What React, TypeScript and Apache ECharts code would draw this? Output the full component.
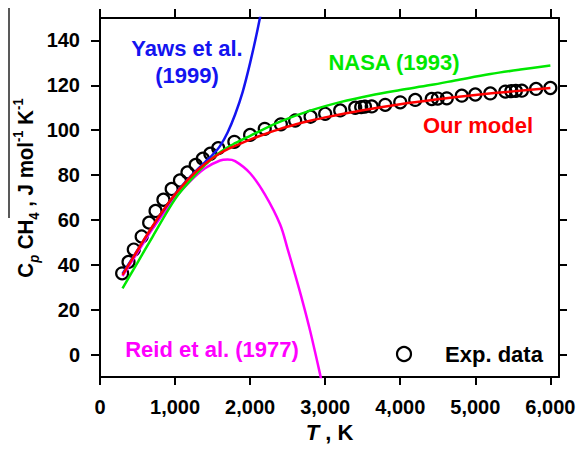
import React, { useEffect, useRef } from "react";
import * as echarts from "echarts";

// Experimental data (T in K, Cp in J mol^-1 K^-1)
const expT = [295, 380, 450, 555, 655, 740, 845, 955, 1065, 1165, 1275, 1370, 1470, 1575, 1790, 2000, 2195, 2410, 2600, 2805, 3000, 3200, 3400, 3480, 3530, 3620, 3800, 4000, 4200, 4420, 4500, 4620, 4820, 5000, 5200, 5400, 5480, 5540, 5620, 5810, 6000];
const expCp = [36.2, 41.3, 46.8, 52.6, 58.8, 64, 69, 73.8, 77.6, 81.2, 84.5, 87.3, 89.5, 92, 94.8, 97.9, 100.6, 102.6, 104.3, 106, 107.3, 108.8, 110, 110.3, 110.5, 110.6, 111.3, 112.4, 113.5, 113.9, 114.1, 114.2, 115.4, 115.9, 116.4, 117.2, 117.4, 117.5, 117.6, 118.4, 118.8];

// Our model (red)
const modelT = [300, 400, 500, 600, 700, 800, 900, 1000, 1200, 1400, 1600, 1800, 2000, 2200, 2400, 2600, 2800, 3000, 3500, 4000, 4500, 5000, 5500, 6000];
const modelCp = [35.5, 41, 46.5, 52, 57.2, 62.2, 67, 71.4, 79, 85, 89.7, 93, 95.8, 98.3, 100.6, 102.5, 104.2, 105.7, 108.9, 111.6, 113.8, 115.7, 117.3, 118.8];

// NASA (1993) (green)
const nasaT = [300, 500, 700, 1000, 1200, 1400, 1600, 1800, 2000, 2400, 2800, 3200, 3600, 4000, 4400, 4800, 5200, 5600, 6000];
const nasaCp = [29.5, 41, 52.5, 69.3, 77.5, 84.5, 90.2, 94.2, 97.5, 103.8, 108.7, 112.5, 115.5, 117.9, 120.1, 122.6, 125, 127, 128.8];

// Yaws et al. (1999) (blue)
const yawsT = [300, 500, 700, 1000, 1200, 1400, 1500, 1600, 1700, 1800, 1900, 2000, 2100, 2200];
const yawsCp = [36, 46.5, 57, 71.5, 79.2, 85.8, 89, 93, 99, 107, 117, 130, 145, 162];

// Reid et al. (1977) (magenta)
const reidT = [300, 500, 700, 1000, 1200, 1400, 1600, 1700, 1800, 2000, 2200, 2400, 2500, 2600, 2700, 2800, 2900, 2950];
const reidCp = [35, 45.5, 56, 69.8, 77.2, 83, 86.5, 86.9, 86.2, 80.8, 71.2, 58, 47, 35.5, 23.5, 10.5, -4, -11.5];

const xTicks = [0, 1000, 2000, 3000, 4000, 5000, 6000];
const yTicks = [0, 20, 40, 60, 80, 100, 120, 140];

const FONT = "'Liberation Sans', Arial, sans-serif";
const BLUE = "#1414f0";
const GREEN = "#00e800";
const RED = "#ff0000";
const MAGENTA = "#ff00ff";

const zip = (a: number[], b: number[]) => a.map((v, i) => [v, b[i]]);

export default function App() {
  const ref = useRef<HTMLDivElement>(null);
  useEffect(() => {
    if (!ref.current) return;
    const chart = echarts.init(ref.current, null, { renderer: "svg" });
    const axisLine = { show: true, onZero: false, lineStyle: { color: "#000", width: 2 } };
    const labelStyle = { fontSize: 20, fontWeight: "bold" as const, color: "#000", fontFamily: FONT };
    const lineSeries = (name: string, t: number[], v: number[], color: string) => ({
      name,
      type: "line",
      data: zip(t, v),
      showSymbol: false,
      symbol: "none",
      smooth: 0.35,
      lineStyle: { color, width: 2.5 },
      itemStyle: { color },
      clip: true,
    });
    chart.setOption({
      animation: false,
      backgroundColor: "#fff",
      grid: { left: 100, right: 20, top: 18, bottom: 72, containLabel: false, outerBoundsMode: "none" },
      xAxis: [
        {
          type: "value",
          position: "bottom",
          min: 0,
          max: 6115,
          axisLine,
          splitLine: { show: false },
          axisTick: { show: true, inside: false, length: 8, lineStyle: { color: "#000", width: 2 }, customValues: xTicks },
          axisLabel: {
            ...labelStyle,
            margin: 20,
            customValues: xTicks,
            formatter: (v: number) => v.toLocaleString("en-US"),
          },
          name: "{i|T}{n| , K}",
          nameLocation: "middle",
          nameGap: 40,
          nameTextStyle: {
            rich: {
              i: { fontSize: 22, fontWeight: "bold", fontStyle: "italic", fontFamily: FONT, color: "#000" },
              n: { fontSize: 22, fontWeight: "bold", fontFamily: FONT, color: "#000" },
            },
          },
        },
        {
          type: "value",
          position: "top",
          min: 0,
          max: 6115,
          axisLine,
          splitLine: { show: false },
          axisTick: { show: true, inside: false, length: 9, lineStyle: { color: "#000", width: 2 }, customValues: xTicks },
          axisLabel: { show: false },
        },
      ],
      yAxis: [
        {
          type: "value",
          position: "left",
          min: -10,
          max: 150,
          axisLine,
          splitLine: { show: false },
          axisTick: { show: true, inside: false, length: 9, lineStyle: { color: "#000", width: 2 }, customValues: yTicks },
          axisLabel: { ...labelStyle, margin: 20, customValues: yTicks },
        },
        {
          type: "value",
          position: "right",
          min: -10,
          max: 150,
          axisLine,
          splitLine: { show: false },
          axisTick: { show: true, inside: false, length: 8, lineStyle: { color: "#000", width: 2 }, customValues: yTicks },
          axisLabel: { show: false },
        },
      ],
      series: [
        {
          name: "Exp. data",
          type: "scatter",
          data: zip(expT, expCp),
          symbol: "circle",
          symbolSize: 12,
          itemStyle: { color: "rgba(255,255,255,0)", borderColor: "#000", borderWidth: 2.2, opacity: 1 },
          clip: true,
        },
        lineSeries("Reid et al. (1977)", reidT, reidCp, MAGENTA),
        lineSeries("Yaws et al. (1999)", yawsT, yawsCp, BLUE),
        lineSeries("NASA (1993)", nasaT, nasaCp, GREEN),
        lineSeries("Our model", modelT, modelCp, RED),
      ],
      graphic: [
        { type: "line", shape: { x1: 9, y1: 8, x2: 9, y2: 218 }, style: { stroke: "#222", lineWidth: 1.5 } },
        {
          type: "text",
          x: 26,
          y: 188,
          rotation: Math.PI / 2,
          scaleX: 0.93,
          style: {
            text: "{c|C}{p|p}{c| CH}{s|4}{c| , J mol}{u|-1}{c| K}{u|-1}",
            align: "center",
            verticalAlign: "middle",
            rich: {
              c: { fontSize: 22, fontWeight: "bold", fontFamily: FONT, fill: "#000", lineHeight: 30 },
              p: { fontSize: 14, fontWeight: "bold", fontStyle: "italic", fontFamily: FONT, fill: "#000", lineHeight: 14, verticalAlign: "bottom" },
              s: { fontSize: 14, fontWeight: "bold", fontFamily: FONT, fill: "#000", lineHeight: 14, verticalAlign: "bottom" },
              u: { fontSize: 14, fontWeight: "bold", fontFamily: FONT, fill: "#000", lineHeight: 14, verticalAlign: "top" },
            },
          },
        },
        { type: "text", x: 187, y: 48, style: { text: "Yaws et al.", fill: BLUE, fontSize: 22, fontWeight: "bold", fontFamily: FONT, align: "center", verticalAlign: "middle" } },
        { type: "text", x: 187, y: 75, style: { text: "(1999)", fill: BLUE, fontSize: 22, fontWeight: "bold", fontFamily: FONT, align: "center", verticalAlign: "middle" } },
        { type: "text", x: 394, y: 62, style: { text: "NASA (1993)", fill: GREEN, fontSize: 22, fontWeight: "bold", fontFamily: FONT, align: "center", verticalAlign: "middle" } },
        { type: "text", x: 478, y: 125, style: { text: "Our model", fill: RED, fontSize: 22, fontWeight: "bold", fontFamily: FONT, align: "center", verticalAlign: "middle" } },
        { type: "text", x: 212, y: 349, style: { text: "Reid et al. (1977)", fill: MAGENTA, fontSize: 22, fontWeight: "bold", fontFamily: FONT, align: "center", verticalAlign: "middle" } },
        { type: "circle", shape: { cx: 404, cy: 354, r: 7 }, style: { fill: "none", stroke: "#000", lineWidth: 2.2 } },
        { type: "text", x: 494, y: 354, style: { text: "Exp. data", fill: "#000", fontSize: 22, fontWeight: "bold", fontFamily: FONT, align: "center", verticalAlign: "middle" } },
      ],
    });
    return () => chart.dispose();
  }, []);
  return <div ref={ref} style={{ position: "fixed", left: 0, top: 0, width: 579, height: 449, background: "#fff" }} />;
}
